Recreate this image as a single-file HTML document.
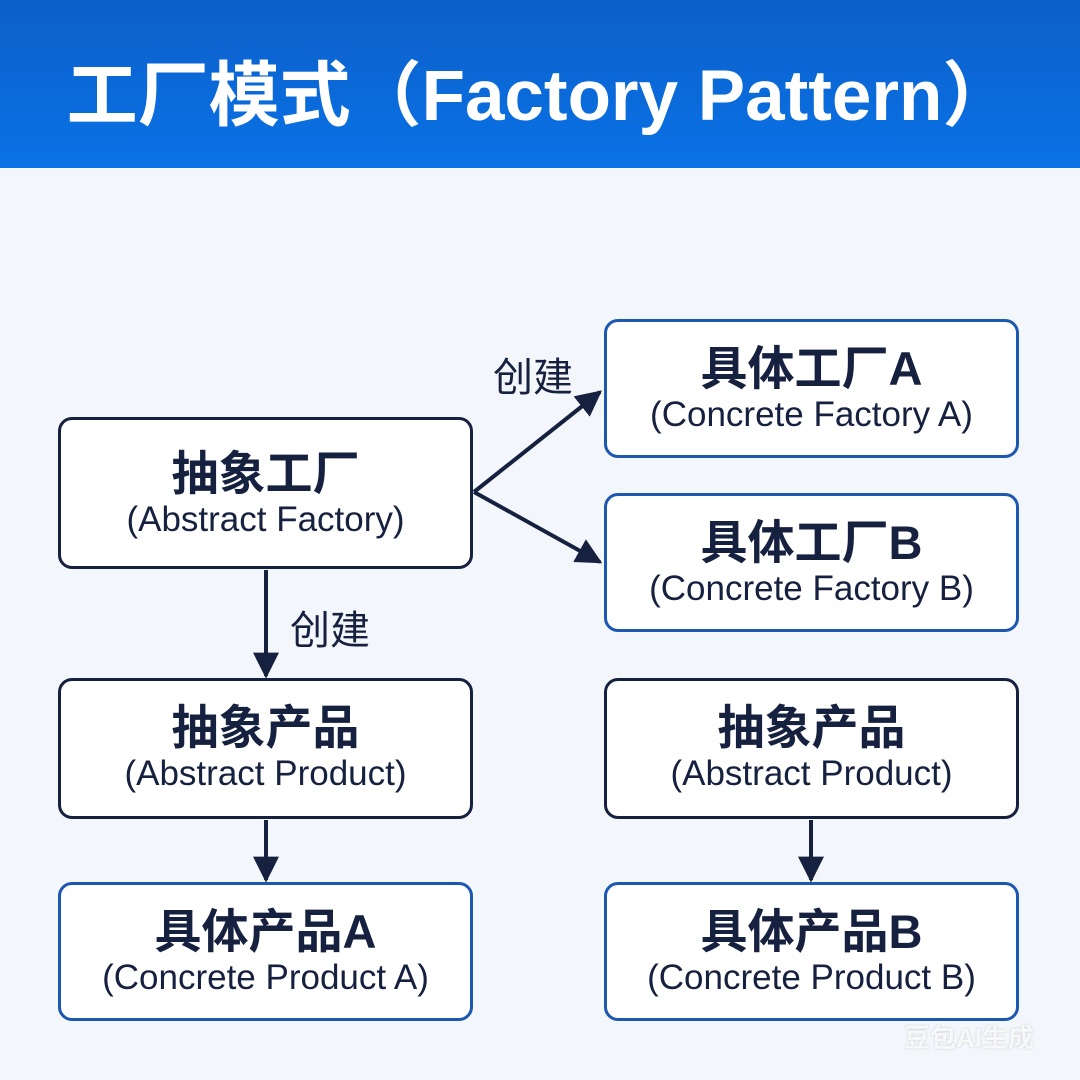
<!DOCTYPE html>
<html><head><meta charset="utf-8"><style>
body{margin:0;width:1080px;height:1080px;background:#f3f6fa;position:relative;overflow:hidden;font-family:"Liberation Sans","Noto Sans CJK SC",sans-serif}
.hdr{position:absolute;left:0;top:0;width:1080px;height:168px;background:linear-gradient(180deg,#0c5fc9,#0a72e6);}
.hdr div{position:absolute;left:0;width:1080px;top:52px;text-align:center;color:#fff;font-weight:bold;font-size:71px;line-height:90px}
.box{position:absolute;box-sizing:border-box;border:3px solid #16203f;border-radius:14px;background:#fff;text-align:center;color:#16203f}
.blue{border-color:#1c57b0}
.box .c{font-weight:bold;font-size:47px;line-height:50px}
.box .e{font-size:35px;line-height:42px}
.lbl{position:absolute;font-size:40px;color:#16203f}
</style></head><body>
<div class="hdr"><div>工厂模式（Factory Pattern）</div></div>
<svg width="1080" height="1080" style="position:absolute;left:0;top:0">
<defs>
<marker id="b" viewBox="0 0 10 10" markerWidth="26" markerHeight="26" refX="9" refY="5" orient="auto" markerUnits="userSpaceOnUse"><path d="M0,0 L10,5 L0,10z" fill="#16203f"/></marker></defs>
<g stroke="#16203f" stroke-width="4" fill="none">
<line x1="474" y1="492" x2="600" y2="392" marker-end="url(#b)"/>
<line x1="474" y1="492" x2="600" y2="562" marker-end="url(#b)"/>
<line x1="266" y1="570" x2="266" y2="676" marker-end="url(#b)"/>
<line x1="266" y1="820" x2="266" y2="880" marker-end="url(#b)"/>
<line x1="811" y1="820" x2="811" y2="880" marker-end="url(#b)"/>
</g></svg>
<div class="lbl" style="left:493px;top:345px">创建</div>
<div class="lbl" style="left:290px;top:598px">创建</div>
<div class="box" style="left:58px;top:417px;width:415px;height:152px;padding-top:29px"><div class="c">抽象工厂</div><div class="e">(Abstract Factory)</div></div>
<div class="box blue" style="left:604px;top:319px;width:415px;height:139px;padding-top:22px"><div class="c">具体工厂A</div><div class="e">(Concrete Factory A)</div></div>
<div class="box blue" style="left:604px;top:493px;width:415px;height:139px;padding-top:22px"><div class="c">具体工厂B</div><div class="e">(Concrete Factory B)</div></div>
<div class="box" style="left:58px;top:678px;width:415px;height:141px;padding-top:22px"><div class="c">抽象产品</div><div class="e">(Abstract Product)</div></div>
<div class="box" style="left:604px;top:678px;width:415px;height:141px;padding-top:22px"><div class="c">抽象产品</div><div class="e">(Abstract Product)</div></div>
<div class="box blue" style="left:58px;top:882px;width:415px;height:139px;padding-top:22px"><div class="c">具体产品A</div><div class="e">(Concrete Product A)</div></div>
<div class="box blue" style="left:604px;top:882px;width:415px;height:139px;padding-top:22px"><div class="c">具体产品B</div><div class="e">(Concrete Product B)</div></div>
<div style="position:absolute;left:904px;top:1018px;font-size:26px;font-weight:bold;color:rgba(255,255,255,0.85);text-shadow:0 0 2px rgba(0,0,0,0.2)">豆包AI生成</div>
</body></html>
